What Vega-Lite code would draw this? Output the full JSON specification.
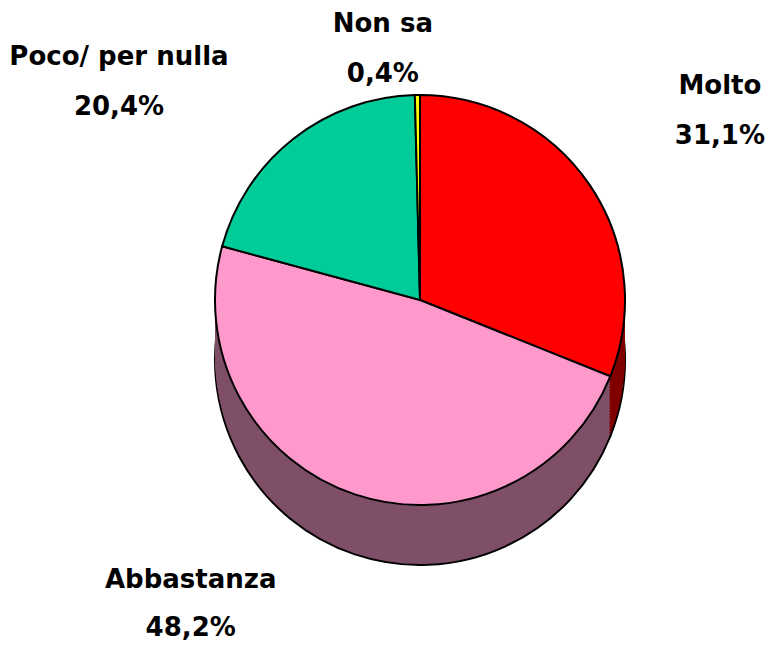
{
  "$schema": "https://vega.github.io/schema/vega-lite/v6.json",
  "autosize": {"type": "none"},
  "padding": {"left": 62, "top": 0, "right": 0, "bottom": 45},
  "width": 716,
  "height": 600,
  "background": "white",
  "config": {"view": {"stroke": null}},
  "data": {
    "values": [
      {"cat": "Molto", "value": 31.1, "label": "Molto\n31,1%", "ord": 1},
      {"cat": "Abbastanza", "value": 48.2, "label": "Abbastanza\n48,2%", "ord": 2},
      {"cat": "Poco/ per nulla", "value": 20.4, "label": "Poco/ per nulla\n20,4%", "ord": 3},
      {"cat": "Non sa", "value": 0.4, "label": "Non sa\n0,4%", "ord": 4}
    ]
  },
  "encoding": {
    "theta": {"field": "value", "type": "quantitative", "stack": true},
    "order": {"field": "ord", "type": "quantitative"},
    "color": {
      "field": "cat", "type": "nominal", "legend": null,
      "scale": {"domain": ["Molto", "Abbastanza", "Poco/ per nulla", "Non sa"], "range": ["#800000", "#7F4F68", "#006650", "#808000"]}
    }
  },
  "layer": [
    {"mark": {"type": "arc", "radius": 205, "yOffset": 60, "stroke": "black", "strokeWidth": 2}},
    {"mark": {"type": "arc", "radius": 205, "yOffset": 57}},
    {"mark": {"type": "arc", "radius": 205, "yOffset": 54}},
    {"mark": {"type": "arc", "radius": 205, "yOffset": 51}},
    {"mark": {"type": "arc", "radius": 205, "yOffset": 48}},
    {"mark": {"type": "arc", "radius": 205, "yOffset": 45}},
    {"mark": {"type": "arc", "radius": 205, "yOffset": 42}},
    {"mark": {"type": "arc", "radius": 205, "yOffset": 39}},
    {"mark": {"type": "arc", "radius": 205, "yOffset": 36}},
    {"mark": {"type": "arc", "radius": 205, "yOffset": 33}},
    {"mark": {"type": "arc", "radius": 205, "yOffset": 30}},
    {"mark": {"type": "arc", "radius": 205, "yOffset": 27}},
    {"mark": {"type": "arc", "radius": 205, "yOffset": 24}},
    {"mark": {"type": "arc", "radius": 205, "yOffset": 21}},
    {"mark": {"type": "arc", "radius": 205, "yOffset": 18}},
    {"mark": {"type": "arc", "radius": 205, "yOffset": 15}},
    {"mark": {"type": "arc", "radius": 205, "yOffset": 12}},
    {"mark": {"type": "arc", "radius": 205, "yOffset": 9}},
    {"mark": {"type": "arc", "radius": 205, "yOffset": 6}},
    {"mark": {"type": "arc", "radius": 205, "yOffset": 3}},
    {
      "mark": {"type": "arc", "radius": 205, "stroke": "black", "strokeWidth": 2},
      "encoding": {
        "color": {
          "field": "cat", "type": "nominal", "legend": null,
          "scale": {"domain": ["Molto", "Abbastanza", "Poco/ per nulla", "Non sa"], "range": ["#FF0000", "#FF99CC", "#00CC99", "#FFFF00"]}
        }
      }
    },
    {
      "mark": {"type": "text", "radius": 350, "dx": 10, "dy": -18, "lineBreak": "\n", "lineHeight": 50, "font": "DejaVu Sans", "fontSize": 26, "fontWeight": "bold", "baseline": "middle", "align": "center"},
      "encoding": {
        "text": {"condition": {"test": "datum.cat === 'Molto'", "field": "label"}, "value": ""},
        "color": {"value": "black"}
      }
    },
    {
      "mark": {"type": "text", "radius": 319, "dx": -128, "dy": -22, "lineBreak": "\n", "lineHeight": 48, "font": "DejaVu Sans", "fontSize": 26, "fontWeight": "bold", "baseline": "middle", "align": "center"},
      "encoding": {
        "text": {"condition": {"test": "datum.cat === 'Abbastanza'", "field": "label"}, "value": ""},
        "color": {"value": "black"}
      }
    },
    {
      "mark": {"type": "text", "radius": 277, "dx": -130, "dy": -25, "lineBreak": "\n", "lineHeight": 50, "font": "DejaVu Sans", "fontSize": 26, "fontWeight": "bold", "baseline": "middle", "align": "center"},
      "encoding": {
        "text": {"condition": {"test": "datum.cat === 'Poco/ per nulla'", "field": "label"}, "value": ""},
        "color": {"value": "black"}
      }
    },
    {
      "mark": {"type": "text", "radius": 252, "dx": -34, "dy": -24, "lineBreak": "\n", "lineHeight": 50, "font": "DejaVu Sans", "fontSize": 26, "fontWeight": "bold", "baseline": "middle", "align": "center"},
      "encoding": {
        "text": {"condition": {"test": "datum.cat === 'Non sa'", "field": "label"}, "value": ""},
        "color": {"value": "black"}
      }
    }
  ],
  "resolve": {"scale": {"color": "independent"}}
}
